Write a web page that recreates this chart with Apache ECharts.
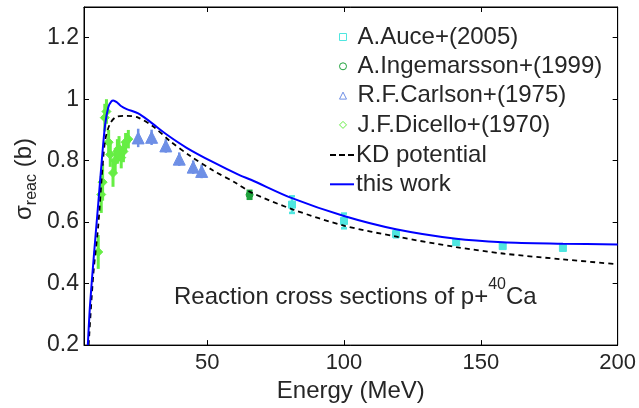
<!DOCTYPE html>
<html>
<head>
<meta charset="utf-8">
<script src="https://cdn.jsdelivr.net/npm/echarts@6/dist/echarts.min.js"></script>
<style>
  html, body { margin: 0; padding: 0; background: #ffffff; }
  #chart { width: 639px; height: 408px; }
</style>
</head>
<body>
<div id="chart"></div>
<script>
// ---- Reaction cross sections of p + 40Ca (energy in MeV, sigma in barn) ----

// Optical-model curves
const thisWorkE = [6.4, 7.2, 8.6, 10.2, 11.5, 12.7, 13.9, 15.0, 15.7, 17.0, 18.5, 20.6, 24.8, 29.1, 35.2, 42.5, 52.2, 62, 66, 81, 100, 119, 141, 158, 180, 200];
const thisWorkS = [0.20, 0.33, 0.49, 0.66, 0.80, 0.916, 0.975, 0.993, 0.996, 0.99, 0.978, 0.968, 0.954, 0.927, 0.885, 0.842, 0.795, 0.752, 0.738, 0.678, 0.620, 0.577, 0.546, 0.535, 0.530, 0.527];

const kdE = [6.7, 8.4, 10.2, 11.5, 12.7, 14.5, 16.9, 20.6, 24.8, 30.3, 36.4, 43.7, 52.2, 60.8, 66, 81.4, 100.3, 119.2, 141, 158, 180, 200];
const kdS = [0.20, 0.43, 0.588, 0.747, 0.864, 0.92, 0.943, 0.946, 0.94, 0.911, 0.864, 0.816, 0.768, 0.726, 0.697, 0.641, 0.588, 0.553, 0.519, 0.498, 0.479, 0.463];

// Measurements: energy, cross section, uncertainty
const auceE = [81, 100, 119, 141, 158, 180];
const auceS = [0.657, 0.604, 0.561, 0.535, 0.522, 0.516];
const auceErr = [0.027, 0.024, 0.010, 0.008, 0.007, 0.007];

const ingemarssonE = [65.5];
const ingemarssonS = [0.689];
const ingemarssonErr = [0.013];

const carlsonE = [24.8, 29.7, 34.9, 39.8, 44.9, 48.0];
const carlsonS = [0.874, 0.876, 0.848, 0.805, 0.779, 0.765];
const carlsonErr = [0.030, 0.025, 0.022, 0.022, 0.022, 0.022];

const dicelloE = [10.2, 11.3, 11.8, 12.6, 13.2, 14.0, 14.6, 15.6, 16.4, 17.2, 17.8, 18.6, 19.4, 20.2, 21.2];
const dicelloS = [0.503, 0.69, 0.73, 0.94, 0.96, 0.86, 0.82, 0.76, 0.80, 0.83, 0.84, 0.81, 0.83, 0.86, 0.87];
const dicelloErr = [0.055, 0.06, 0.06, 0.045, 0.04, 0.04, 0.04, 0.045, 0.04, 0.04, 0.04, 0.035, 0.035, 0.03, 0.03];

// Axes
const xRange = [5, 200];
const yRange = [0.2, 1.3];
const xTickValues = [50, 100, 150, 200];
const yTickValues = [0.2, 0.4, 0.6, 0.8, 1, 1.2];

const FONT = 'Liberation Sans, Arial, Helvetica, sans-serif';
const TEXT = '#262626';

const C_AUCE = '#4fe6e0';
const C_ING = '#1fa23c';
const C_CARLSON = '#6e8fe6';
const C_DICELLO = '#66ee44';
const C_KD = '#000000';
const C_WORK = '#0000ff';

function zip(xs, ys) { return xs.map((x, i) => [x, ys[i]]); }

// Vertical error bars with short caps, drawn through the axis scales
function errorBars(id, E, S, err, color, width, cap) {
  return {
    type: 'custom',
    id: id,
    silent: true,
    z: 2,
    clip: true,
    data: E.map((e, i) => [e, S[i] - err[i], S[i] + err[i]]),
    encode: { x: 0, y: [1, 2] },
    renderItem: function (params, api) {
      const lo = api.coord([api.value(0), api.value(1)]);
      const hi = api.coord([api.value(0), api.value(2)]);
      const st = { stroke: color, lineWidth: width };
      const children = [
        { type: 'line', shape: { x1: lo[0], y1: lo[1], x2: hi[0], y2: hi[1] }, style: st }
      ];
      if (cap > 0) {
        children.push({ type: 'line', shape: { x1: lo[0] - cap, y1: lo[1], x2: lo[0] + cap, y2: lo[1] }, style: st });
        children.push({ type: 'line', shape: { x1: hi[0] - cap, y1: hi[1], x2: hi[0] + cap, y2: hi[1] }, style: st });
      }
      return { type: 'group', children: children };
    }
  };
}

function markers(name, E, S, symbol, size, color) {
  return {
    type: 'scatter',
    name: name,
    data: zip(E, S),
    symbol: symbol,
    symbolSize: size,
    z: 3,
    itemStyle: { color: color, borderColor: color, borderWidth: 1, opacity: 1 }
  };
}

const chart = echarts.init(document.getElementById('chart'), null, { renderer: 'canvas' });

const axisLine = { show: true, onZero: false, lineStyle: { color: '#000', width: 1 } };
const tickStyle = { color: '#000', width: 1 };

chart.setOption({
  animation: false,
  backgroundColor: '#ffffff',
  grid: { left: 84, right: 21, top: 7, bottom: 56, containLabel: false, show: true, borderColor: '#000', borderWidth: 1, backgroundColor: 'transparent' },
  xAxis: [
    {
      type: 'value', min: xRange[0], max: xRange[1], position: 'bottom',
      axisLine: axisLine,
      axisTick: { show: true, inside: true, length: 5, customValues: xTickValues, lineStyle: tickStyle },
      axisLabel: { customValues: xTickValues, margin: 7, fontSize: 22, fontFamily: FONT, color: TEXT },
      splitLine: { show: false },
      name: 'Energy (MeV)', nameLocation: 'middle', nameGap: 31,
      nameTextStyle: { fontSize: 24, fontFamily: FONT, color: TEXT }
    },
    {
      type: 'value', min: xRange[0], max: xRange[1], position: 'top',
      axisLine: axisLine,
      axisTick: { show: true, inside: true, length: 5, customValues: xTickValues, lineStyle: tickStyle },
      axisLabel: { show: false },
      splitLine: { show: false }
    }
  ],
  yAxis: [
    {
      type: 'value', min: yRange[0], max: yRange[1], position: 'left',
      axisLine: axisLine,
      axisTick: { show: true, inside: true, length: 5, customValues: yTickValues, lineStyle: tickStyle },
      axisLabel: { customValues: yTickValues, margin: 5, fontSize: 23, fontFamily: FONT, color: TEXT },
      splitLine: { show: false }
    },
    {
      type: 'value', min: yRange[0], max: yRange[1], position: 'right',
      axisLine: axisLine,
      axisTick: { show: true, inside: true, length: 5, customValues: yTickValues, lineStyle: tickStyle },
      axisLabel: { show: false },
      splitLine: { show: false }
    }
  ],
  legend: [
    {
      orient: 'vertical', left: 339, top: 25, padding: 0,
      itemWidth: 7, itemHeight: 7, itemGap: 5.3,
      textStyle: { fontSize: 24, lineHeight: 24, fontFamily: FONT, color: TEXT, padding: [0, 0, 0, 6] },
      selectedMode: false,
      data: [
        { name: 'A.Auce+(2005)', icon: 'rect', itemStyle: { color: '#fff', borderColor: C_AUCE, borderWidth: 1 } },
        { name: 'A.Ingemarsson+(1999)', icon: 'circle', itemStyle: { color: '#fff', borderColor: C_ING, borderWidth: 1 } },
        { name: 'R.F.Carlson+(1975)', icon: 'triangle', itemStyle: { color: '#fff', borderColor: C_CARLSON, borderWidth: 1 } },
        { name: 'J.F.Dicello+(1970)', icon: 'diamond', itemStyle: { color: '#fff', borderColor: C_DICELLO, borderWidth: 1 } }
      ]
    },
    {
      orient: 'vertical', left: 330, top: 143, padding: 0,
      itemWidth: 24, itemHeight: 2, itemGap: 5.3,
      textStyle: { fontSize: 24, lineHeight: 24, fontFamily: FONT, color: TEXT, padding: [0, 0, 0, -3] },
      selectedMode: false,
      data: [
        { name: 'KD potential', icon: 'path://M0,0h6v2h-6z M9,0h6v2h-6z M18,0h6v2h-6z', itemStyle: { color: C_KD, borderWidth: 0 } },
        { name: 'this work', icon: 'path://M0,0h24v2h-24z', itemStyle: { color: C_WORK, borderWidth: 0 } }
      ]
    }
  ],
  graphic: [
    {
      type: 'text', x: 24, y: 179, rotation: Math.PI / 2,
      style: {
        text: '{s|σ}{sub|reac}{n| (b)}',
        align: 'center', verticalAlign: 'middle',
        rich: {
          s: { fontSize: 24, lineHeight: 24, fontFamily: FONT, fill: TEXT, verticalAlign: 'top' },
          sub: { fontSize: 16, lineHeight: 16, fontFamily: FONT, fill: TEXT, verticalAlign: 'top', padding: [12, 0, 0, 0] },
          n: { fontSize: 24, lineHeight: 24, fontFamily: FONT, fill: TEXT, verticalAlign: 'top' }
        }
      }
    },
    {
      type: 'text', left: 174, top: 277,
      style: {
        text: '{m|Reaction cross sections of p+}{sup|40}{m|Ca}',
        rich: {
          m: { fontSize: 24, lineHeight: 24, fontFamily: FONT, fill: TEXT, verticalAlign: 'bottom' },
          sup: { fontSize: 16, lineHeight: 16, fontFamily: FONT, fill: TEXT, verticalAlign: 'bottom', padding: [0, 0, 16, 0] }
        }
      }
    }
  ],
  series: [
    errorBars('err-auce', auceE, auceS, auceErr, C_AUCE, 2.5, 3),
    errorBars('err-ing', ingemarssonE, ingemarssonS, ingemarssonErr, C_ING, 2.5, 3),
    errorBars('err-carlson', carlsonE, carlsonS, carlsonErr, C_CARLSON, 2.5, 0),
    errorBars('err-dicello', dicelloE, dicelloS, dicelloErr, C_DICELLO, 3, 0),
    markers('A.Auce+(2005)', auceE, auceS, 'rect', 7, C_AUCE),
    markers('A.Ingemarsson+(1999)', ingemarssonE, ingemarssonS, 'circle', 7, C_ING),
    markers('R.F.Carlson+(1975)', carlsonE, carlsonS, 'triangle', 12, C_CARLSON),
    markers('J.F.Dicello+(1970)', dicelloE, dicelloS, 'diamond', 9, C_DICELLO),
    {
      type: 'line', name: 'KD potential', data: zip(kdE, kdS),
      xAxisIndex: 1, yAxisIndex: 1,
      showSymbol: false, symbol: 'none', smooth: 0.3, z: 4,
      lineStyle: { color: C_KD, width: 1.8, type: [5, 4] },
      itemStyle: { color: C_KD }
    },
    {
      type: 'line', name: 'this work', data: zip(thisWorkE, thisWorkS),
      showSymbol: false, symbol: 'none', smooth: 0.3, z: 5,
      lineStyle: { color: C_WORK, width: 2 },
      itemStyle: { color: C_WORK }
    }
  ]
});
</script>
</body>
</html>
